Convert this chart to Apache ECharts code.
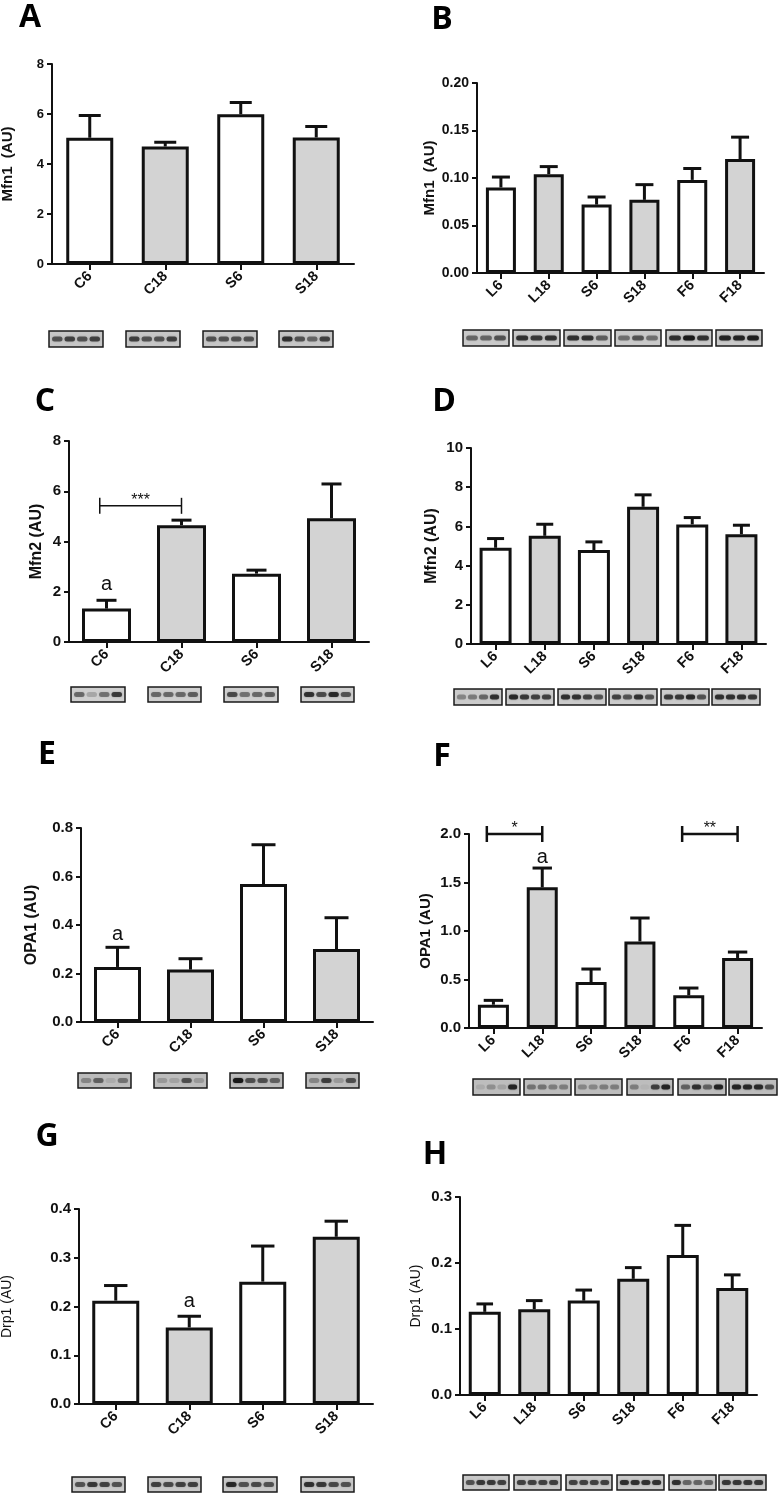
<!DOCTYPE html>
<html><head><meta charset="utf-8">
<script src="https://cdn.jsdelivr.net/npm/echarts@6/dist/echarts.min.js"></script>
<style>html,body{margin:0;padding:0;background:#fff}#c{width:780px;height:1497px}</style>
</head><body><div id="c"></div>
<script>
// ---------------- DATA ----------------
const catsCS  = ['C6', 'C18', 'S6', 'S18'];
const catsLSF = ['L6', 'L18', 'S6', 'S18', 'F6', 'F18'];

const mfn1CSMean  = [5.05, 4.70, 5.99, 5.06];
const mfn1CSSem   = [0.89, 0.17, 0.47, 0.44];
const mfn1LSFMean = [0.090, 0.104, 0.072, 0.077, 0.098, 0.120];
const mfn1LSFSem  = [0.011, 0.008, 0.008, 0.016, 0.012, 0.023];

const mfn2CSMean  = [1.33, 4.65, 2.72, 4.93];
const mfn2CSSem   = [0.33, 0.20, 0.14, 1.36];
const mfn2LSFMean = [4.91, 5.52, 4.79, 7.00, 6.10, 5.60];
const mfn2LSFSem  = [0.47, 0.59, 0.42, 0.61, 0.35, 0.46];

const opa1CSMean  = [0.227, 0.216, 0.569, 0.301];
const opa1CSSem   = [0.081, 0.045, 0.162, 0.129];
const opa1LSFMean = [0.240, 1.450, 0.474, 0.893, 0.337, 0.722];
const opa1LSFSem  = [0.045, 0.199, 0.134, 0.241, 0.075, 0.061];

const drp1CSMean  = [0.212, 0.157, 0.251, 0.343];
const drp1CSSem   = [0.031, 0.023, 0.073, 0.032];
const drp1LSFMean = [0.126, 0.130, 0.143, 0.176, 0.212, 0.162];
const drp1LSFSem  = [0.012, 0.013, 0.016, 0.017, 0.045, 0.020];

// y-axis ranges (max, step, decimals of tick labels)
const yMaxes    = [8, 0.20, 8, 10, 0.8, 2.0, 0.4, 0.3];
const yIntervals= [2, 0.05, 2, 2, 0.2, 0.5, 0.1, 0.1];
const yDecimals = [0, 2, 0, 0, 1, 1, 1, 1];
const yNames    = ['Mfn1  (AU)', 'Mfn1  (AU)', 'Mfn2 (AU)', 'Mfn2 (AU)', 'OPA1 (AU)', 'OPA1 (AU)', 'Drp1 (AU)', 'Drp1 (AU)'];
const panelLetters = ['A', 'B', 'C', 'D', 'E', 'F', 'G', 'H'];

// annotations: letter "a" [categoryIndex, y], significance brackets [from, y, to]
const letterMarksC = [[0, 2.30]];
const letterMarksE = [[0, 0.36]];
const letterMarksF = [[1, 1.753]];
const letterMarksG = [[1, 0.210]];
const bracketsC = [[0, 5.42, 1]]; const bracketTextC = ['***'];
const bracketsF = [[0, 2.0, 1], [4, 2.0, 5]]; const bracketTextF = ['*', '**'];

// ---------------- LAYOUT ----------------
const FONT = '"Liberation Sans", Arial, Helvetica, sans-serif';
const INK = '#111111';
const GREY = '#d3d3d3';

const LAYOUT = [
  {grid:{left:52, top:64,  width:302, height:200}, barW:47, cap:11,  tickFs:13, nameGap:37, nameFs:15, nameBold:true,  letter:[30,18]},
  {grid:{left:477,top:83,  width:287, height:190}, barW:30, cap:9,   tickFs:14, nameGap:40, nameFs:15, nameBold:true,  letter:[442,20]},
  {grid:{left:69, top:441, width:300, height:201}, barW:49, cap:10,  tickFs:15, nameGap:24, nameFs:16, nameBold:true,  letter:[45,402]},
  {grid:{left:471,top:448, width:295, height:196}, barW:32, cap:8.5, tickFs:15, nameGap:31, nameFs:16, nameBold:true,  letter:[444,402]},
  {grid:{left:81, top:828, width:292, height:194}, barW:47, cap:12,  tickFs:15, nameGap:41, nameFs:16, nameBold:true,  letter:[47,755]},
  {grid:{left:469,top:834, width:293, height:194}, barW:31, cap:9.7, tickFs:15, nameGap:36, nameFs:15, nameBold:true,  letter:[442,757]},
  {grid:{left:79, top:1209,width:294, height:195}, barW:47, cap:11.7,tickFs:15, nameGap:65, nameFs:14, nameBold:false, letter:[47,1137]},
  {grid:{left:460,top:1197,width:297, height:198}, barW:32, cap:8.3, tickFs:15, nameGap:37, nameFs:14, nameBold:false, letter:[435,1155]}
];

const panels = [
  {cats:catsCS,  mean:mfn1CSMean,  sem:mfn1CSSem},
  {cats:catsLSF, mean:mfn1LSFMean, sem:mfn1LSFSem},
  {cats:catsCS,  mean:mfn2CSMean,  sem:mfn2CSSem,  letters:letterMarksC, brackets:bracketsC, bracketText:bracketTextC, bracketLW:1.5, bracketOff:-0.09},
  {cats:catsLSF, mean:mfn2LSFMean, sem:mfn2LSFSem},
  {cats:catsCS,  mean:opa1CSMean,  sem:opa1CSSem,  letters:letterMarksE},
  {cats:catsLSF, mean:opa1LSFMean, sem:opa1LSFSem, letters:letterMarksF, brackets:bracketsF, bracketText:bracketTextF, bracketLW:2.5, bracketOff:-0.135},
  {cats:catsCS,  mean:drp1CSMean,  sem:drp1CSSem,  letters:letterMarksG},
  {cats:catsLSF, mean:drp1LSFMean, sem:drp1LSFSem}
];

// western-blot strips (decorative image stand-ins): [x1, x2] boxes, y-range, lane intensities
const BLOTS = [
  {y:[331,347], boxes:[[49,103],[126,180],[203,257],[279,333]], lanes:[[.6,.7,.6,.7],[.7,.6,.6,.7],[.6,.6,.6,.6],[.8,.6,.5,.7]], fill:'#c6c6c6'},
  {y:[330,346], boxes:[[463,509],[513,560],[564,611],[615,661],[666,712],[716,762]], lanes:[[.5,.5,.6],[.8,.75,.8],[.8,.8,.55],[.45,.6,.45],[.8,1,.8],[.9,.9,.95]], fill:'#c9c9c9'},
  {y:[687,702], boxes:[[71,125],[148,201],[224,278],[301,354]], lanes:[[.5,.2,.45,.75],[.5,.5,.5,.55],[.65,.45,.5,.55],[.8,.65,.85,.6]], fill:'#cfcfcf'},
  {y:[689,705], boxes:[[454,502],[506,554],[558,606],[609,657],[661,709],[712,760]], lanes:[[.35,.4,.5,.8],[.85,.75,.7,.7],[.8,.8,.7,.6],[.7,.6,.8,.6],[.75,.75,.85,.6],[.8,.8,.8,.75]], fill:'#cbcbcb'},
  {y:[1073,1088], boxes:[[78,131],[154,207],[230,283],[306,359]], lanes:[[.3,.5,.1,.4],[.2,.15,.6,.2],[1,.6,.6,.5],[.3,.7,.2,.6]], fill:'#bcbcbc'},
  {y:[1079,1095], boxes:[[473,520],[524,571],[575,622],[627,673],[678,726],[729,777]], lanes:[[.1,.25,.15,.9],[.4,.4,.35,.35],[.3,.3,.35,.35],[.35,.05,.7,.9],[.5,.8,.5,.9],[.9,.85,.85,.6]], fill:'#bdbdbd'},
  {y:[1477,1492], boxes:[[72,125],[148,201],[223,277],[301,354]], lanes:[[.6,.75,.7,.6],[.7,.65,.7,.7],[.85,.6,.65,.6],[.8,.75,.65,.6]], fill:'#c8c8c8'},
  {y:[1475,1490], boxes:[[463,509],[514,561],[566,612],[617,664],[669,716],[719,766]], lanes:[[.6,.75,.75,.7],[.7,.7,.7,.7],[.7,.7,.7,.7],[.8,.8,.8,.8],[.8,.5,.5,.5],[.75,.75,.75,.75]], fill:'#c8c8c8'}
];

// ---------------- BUILD ----------------
const grids = [], xAxes = [], yAxes = [], series = [], graphics = [];

panels.forEach((p, i) => {
  const L = LAYOUT[i];
  grids.push(Object.assign({containLabel:false, outerBoundsMode:'none'}, L.grid));
  xAxes.push({
    type:'category', gridIndex:i, data:p.cats, boundaryGap:true,
    axisLine:{show:true, lineStyle:{color:INK, width:2}},
    axisTick:{show:true, alignWithLabel:true, length:6, lineStyle:{color:INK, width:2}},
    axisLabel:{rotate:45, margin:10, color:INK, fontWeight:'bold', fontSize:14.5, fontFamily:FONT},
    splitLine:{show:false}
  });
  const dec = yDecimals[i];
  yAxes.push({
    type:'value', gridIndex:i, min:0, max:yMaxes[i], interval:yIntervals[i],
    name:yNames[i], nameLocation:'middle', nameGap:L.nameGap,
    nameTextStyle:{color:INK, fontWeight:L.nameBold ? 'bold' : 'normal', fontSize:L.nameFs, fontFamily:FONT},
    axisLine:{show:true, lineStyle:{color:INK, width:2}},
    axisTick:{show:true, length:5, lineStyle:{color:INK, width:2}},
    axisLabel:{color:INK, fontWeight:'bold', fontSize:L.tickFs, fontFamily:FONT, margin:8,
      formatter:v => Number(v).toFixed(dec)},
    splitLine:{show:false}
  });
  series.push({
    type:'bar', xAxisIndex:i, yAxisIndex:i, data:p.mean, barWidth:L.barW, silent:true,
    itemStyle:{color:params => params.dataIndex % 2 ? GREY : '#ffffff', borderColor:INK, borderWidth:3},
    z:2
  });
  const errData = p.mean.map((m, k) => [k, m, m + p.sem[k]]);
  const cap = L.cap;
  series.push({
    type:'custom', xAxisIndex:i, yAxisIndex:i, data:errData, silent:true, z:3, clip:false,
    renderItem:(params, api) => {
      const a = api.coord([api.value(0), api.value(1)]);
      const b = api.coord([api.value(0), api.value(2)]);
      return {type:'group', children:[
        {type:'line', shape:{x1:a[0], y1:a[1], x2:b[0], y2:b[1]}, style:{stroke:INK, lineWidth:3}},
        {type:'line', shape:{x1:b[0]-cap, y1:b[1], x2:b[0]+cap, y2:b[1]}, style:{stroke:INK, lineWidth:3}}
      ]};
    }
  });
  if (p.letters) {
    series.push({
      type:'custom', xAxisIndex:i, yAxisIndex:i, data:p.letters, silent:true, z:4, clip:false,
      renderItem:(params, api) => {
        const a = api.coord([api.value(0), api.value(1)]);
        return {type:'text', style:{text:'a', x:a[0], y:a[1], align:'center', verticalAlign:'middle',
          font:'20px ' + FONT, fill:INK}};
      }
    });
  }
  if (p.brackets) {
    const lw = p.bracketLW, off = p.bracketOff, txt = p.bracketText;
    series.push({
      type:'custom', xAxisIndex:i, yAxisIndex:i, data:p.brackets, silent:true, z:4, clip:false,
      renderItem:(params, api) => {
        const a = api.coord([api.value(0), api.value(1)]);
        const b = api.coord([api.value(2), api.value(1)]);
        const bw = api.size([1, 0])[0];
        const x1 = a[0] + off * bw, x2 = b[0], y = a[1];
        return {type:'group', children:[
          {type:'line', shape:{x1:x1, y1:y, x2:x2, y2:y}, style:{stroke:INK, lineWidth:lw}},
          {type:'line', shape:{x1:x1, y1:y-8, x2:x1, y2:y+8}, style:{stroke:INK, lineWidth:lw}},
          {type:'line', shape:{x1:x2, y1:y-8, x2:x2, y2:y+8}, style:{stroke:INK, lineWidth:lw}},
          {type:'text', style:{text:txt[params.dataIndex], x:(x1+x2)/2, y:y-5, align:'center', verticalAlign:'middle',
            font:'16px ' + FONT, fill:INK}}
        ]};
      }
    });
  }
  // panel letter
  graphics.push({type:'text', x:L.letter[0], y:L.letter[1], silent:true,
    style:{text:panelLetters[i], align:'center', verticalAlign:'middle', font:'bold 32px "Open Sans", "Liberation Sans", sans-serif', fill:'#000'}});
});

// blot strips
BLOTS.forEach(bl => {
  const y1 = bl.y[0], h = bl.y[1] - bl.y[0];
  bl.boxes.forEach((bx, j) => {
    const x1 = bx[0], w = bx[1] - bx[0];
    graphics.push({type:'rect', silent:true, shape:{x:x1, y:y1, width:w, height:h},
      style:{fill:bl.fill, stroke:'#1a1a1a', lineWidth:1.5}});
    const ints = bl.lanes[j], n = ints.length, lw = (w - 4) / n;
    ints.forEach((v, k) => {
      graphics.push({type:'rect', silent:true,
        shape:{x:x1 + 2 + k * lw + lw * 0.08, y:y1 + h * 0.5 - 2.5, width:lw * 0.84, height:5, r:2.5},
        style:{fill:'rgba(25,25,25,' + v + ')', shadowBlur:2, shadowColor:'rgba(25,25,25,' + (v * 0.6) + ')'}});
    });
  });
});

const chart = echarts.init(document.getElementById('c'), null, {renderer:'canvas'});
chart.setOption({
  animation:false, backgroundColor:'#ffffff',
  grid:grids, xAxis:xAxes, yAxis:yAxes, series:series, graphic:{elements:graphics}
});
</script></body></html>
